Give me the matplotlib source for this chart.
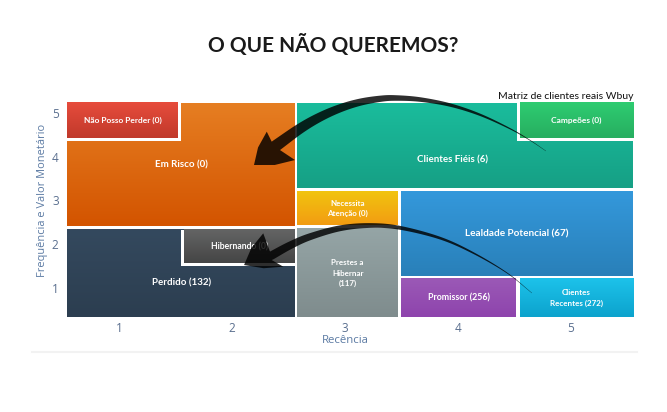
import numpy as np
import matplotlib
matplotlib.use("Agg")
import matplotlib.pyplot as plt
from matplotlib.patches import Rectangle, Polygon
from matplotlib.colors import to_rgb
from matplotlib.lines import Line2D

# ---------------- data ----------------
title = "O QUE NÃO QUEREMOS?"
note = "Matriz de clientes reais Wbuy"
x_title = "Recência"
y_title = "Frequência e Valor Monetário"
x_ticks = [1, 2, 3, 4, 5]
y_ticks = [1, 2, 3, 4, 5]

segments = ["Em Risco", "Clientes Fiéis", "Perdido", "Necessita\nAtenção",
            "Lealdade Potencial", "Prestes a\nHibernar", "Promissor",
            "Clientes\nRecentes", "Não Posso Perder", "Campeões", "Hibernando"]
counts = [0, 6, 132, 0, 67, 117, 256, 272, 0, 0, 0]
# recency (x) and frequency/monetary (y) extents of each segment
r_min = [0.537, 2.577, 0.537, 2.577, 3.499, 2.577, 3.499, 4.546, 0.537, 4.546, 1.575]
r_max = [2.556, 5.550, 2.556, 3.468, 5.550, 3.468, 4.511, 5.550, 1.520, 5.550, 2.556]
fm_min = [2.411, 3.289, 0.320, 2.434, 1.266, 0.320, 0.320, 0.320, 4.420, 4.420, 1.557]
fm_max = [5.222, 5.222, 2.320, 3.197, 3.197, 2.343, 1.197, 1.197, 5.222, 5.222, 2.320]
parent = [None, None, None, None, None, None, None, None, 0, 1, 2]

# annotation arrows (data coordinates)
# shaft waypoints from the tail towards the head
arrow1_path = [(4.779, 4.129), (4.638, 4.375), (4.461, 4.640), (4.195, 4.959),
               (3.929, 5.183), (3.663, 5.309), (3.442, 5.344), (3.309, 5.325),
               (3.132, 5.247), (2.955, 5.108), (2.778, 4.908), (2.601, 4.643)]
# tip, upper barb, upper notch, lower notch, lower barb
arrow1_head = [(2.193, 3.809), (2.306, 4.572), (2.350, 4.343), (2.423, 4.152), (2.556, 3.923)]
arrow2_path = [(4.655, 0.876), (4.434, 1.337), (4.133, 1.797), (3.841, 2.134),
               (3.486, 2.370), (3.221, 2.423), (2.955, 2.359), (2.689, 2.166),
               (2.512, 1.967)]
arrow2_head = [(2.105, 1.518), (2.275, 2.244), (2.335, 1.822), (2.350, 1.632), (2.453, 1.479)]

# ---------------- style ----------------
top_colors = ["#e67e22", "#1abc9c", "#34495e", "#f1c40f", "#3498db", "#95a5a6",
              "#9b59b6", "#1dc2ea", "#e74c3c", "#2ecc71", "#646565"]
bot_colors = ["#d35400", "#16a085", "#2c3e50", "#f39c12", "#2980b9", "#7f8c8d",
              "#8e44ad", "#0ca3cd", "#c0392b", "#27ae60", "#454545"]
label_size = [7.0, 7.0, 7.0, 5.8, 7.2, 5.8, 6.4, 5.8, 6.0, 6.0, 6.2]
label_sep = [" ", " ", " ", " ", " ", "\n", " ", " ", " ", " ", " "]
label_override = {1: (3.95, 3.92), 2: (1.55, 1.10)}

W, H = 667, 412
fig = plt.figure(figsize=(W / 100, H / 100), dpi=100)
fig.patch.set_facecolor("white")
ax = fig.add_axes([62.85 / W, (H - 318.2) / H, 575.8 / W, 218.3 / H])
ax.set_xlim(0.5, 5.6)
ax.set_ylim(0.3, 5.3)
for s in ax.spines.values():
    s.set_visible(False)
ax.set_facecolor("white")

tick_font = "Open Sans"
ax.set_xticks(x_ticks)
ax.set_yticks(y_ticks)
ax.tick_params(length=0, labelsize=8.5, labelcolor="#5a6f8f")
ax.tick_params(axis="x", pad=2.5)
ax.tick_params(axis="y", pad=3)
for lab in ax.get_xticklabels() + ax.get_yticklabels():
    lab.set_family(tick_font)

xl = ax.set_xlabel(x_title, fontsize=8.2, color="#5b7aa3", family=tick_font)
xl.set_va("center")
ax.xaxis.set_label_coords(0.49, -0.104)
yl = ax.set_ylabel(y_title, fontsize=7.9, color="#5b7aa3", family=tick_font)
yl.set_va("center")
ax.yaxis.set_label_coords(-0.0345, 0.541)


def grad_rect(x0, x1, y0, y1, c_top, c_bot, z):
    t = np.linspace(0, 1, 64)[:, None]
    rgb = (1 - t) * np.array(to_rgb(c_top)) + t * np.array(to_rgb(c_bot))
    ax.imshow(rgb[:, None, :], extent=(x0, x1, y0, y1), origin="upper",
              aspect="auto", interpolation="bilinear", zorder=z)


gap_x, gap_y = 3 / 112.9, 3 / 43.65
for i, name in enumerate(segments):
    z = 2
    if parent[i] is not None:
        p = parent[i]
        gx0 = max(r_min[i] - gap_x, r_min[p]); gx1 = min(r_max[i] + gap_x, r_max[p])
        gy0 = max(fm_min[i] - gap_y, fm_min[p]); gy1 = min(fm_max[i] + gap_y, fm_max[p])
        ax.add_patch(Rectangle((gx0, gy0), gx1 - gx0, gy1 - gy0, facecolor="white",
                               edgecolor="none", zorder=2.5))
        z = 3
    grad_rect(r_min[i], r_max[i], fm_min[i], fm_max[i], top_colors[i], bot_colors[i], z)
    cx, cy = label_override.get(i, ((r_min[i] + r_max[i]) / 2, (fm_min[i] + fm_max[i]) / 2))
    ax.text(cx, cy, f"{name}{label_sep[i]}({counts[i]})", ha="center", va="center",
            color="white", fontweight="bold", fontsize=label_size[i], family="Lato",
            linespacing=1.55, zorder=5)

ax.set_xlim(0.5, 5.6)
ax.set_ylim(0.3, 5.3)


def catmull(P, n=30):
    P = np.vstack([P[0] * 2 - P[1], P, P[-1] * 2 - P[-2]])
    out = []
    for i in range(1, len(P) - 2):
        p0, p1, p2, p3 = P[i - 1], P[i], P[i + 1], P[i + 2]
        t = np.linspace(0, 1, n, endpoint=False)[:, None]
        out.append(0.5 * (2 * p1 + (-p0 + p2) * t + (2 * p0 - 5 * p1 + 4 * p2 - p3) * t ** 2
                          + (-p0 + 3 * p1 - 3 * p2 + p3) * t ** 3))
    out.append(P[-2][None, :])
    return np.vstack(out)


def bulge(a, b, away, k):
    mid = (a + b) / 2
    v = b - a
    n = np.array([-v[1], v[0]]) / np.hypot(*v)
    if np.dot(mid - away, n) < 0:
        n = -n
    return mid + n * k * np.hypot(*v)


def draw_arrow(path, head):
    tip, bu, nu, nl, bl = ax.transData.transform(np.array(head))
    neck = (nu + nl) / 2
    P = np.vstack([ax.transData.transform(np.array(path)), neck])
    d = catmull(P)
    seg = np.r_[0, np.cumsum(np.hypot(*np.diff(d, axis=0).T))]
    s = seg / seg[-1]
    wmax = np.hypot(*(nu - nl))
    w = 0.3 + (wmax - 0.3) * s ** 1.3
    tg = np.gradient(d, axis=0)
    tg /= np.hypot(tg[:, 0], tg[:, 1])[:, None]
    nrm = np.c_[-tg[:, 1], tg[:, 0]]
    side_a = d + nrm * w[:, None] / 2
    side_b = d - nrm * w[:, None] / 2
    if np.hypot(*(side_a[-1] - nu)) < np.hypot(*(side_b[-1] - nu)):
        up, lo = side_a, side_b
    else:
        up, lo = side_b, side_a
    m1 = bulge(bu, tip, neck, 0.07)
    m2 = bulge(tip, bl, neck, 0.06)
    poly = np.vstack([up[:-1], [nu, bu, m1, tip, m2, bl, nl], lo[:-1][::-1]])
    poly = fig.transFigure.inverted().transform(poly)
    fig.add_artist(Polygon(poly, closed=True, facecolor="black", edgecolor="none",
                           alpha=0.82, transform=fig.transFigure, zorder=10))


draw_arrow(arrow1_path, arrow1_head)
draw_arrow(arrow2_path, arrow2_head)

fig.text(333 / W, 1 - 45 / H, title, ha="center", va="center", fontsize=15,
         fontweight="bold", family="Lato", color="#1a1a1a")
fig.text(633 / W, 1 - 96.5 / H, note, ha="right", va="center", fontsize=7.5,
         family="Lato", color="#111111")
fig.add_artist(Line2D([32 / W, 637 / W], [1 - 352 / H] * 2, color="#f2f2f2", lw=1.5))

fig.savefig("out.png", dpi=100, facecolor="white")
